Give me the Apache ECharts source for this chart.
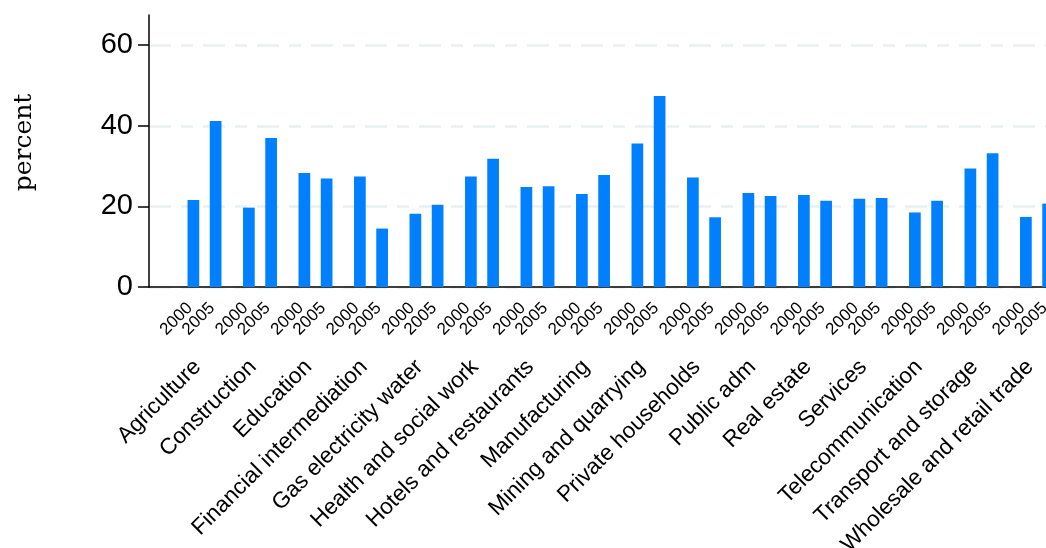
<!DOCTYPE html>
<html><head><meta charset="utf-8">
<script src="https://cdn.jsdelivr.net/npm/echarts@6/dist/echarts.min.js"></script>
<style>html,body{margin:0;padding:0;background:#fff}#c{width:1046px;height:548px}</style>
</head><body><div id="c"></div>
<script>
const sectors = ['Agriculture','Construction','Education','Financial intermediation','Gas electricity water','Health and social work','Hotels and restaurants','Manufacturing','Mining and quarrying','Private households','Public adm','Real estate','Services','Telecommunication','Transport and storage','Wholesale and retail trade'];
const years = ['2000','2005'];
const values2000 = [21.6,19.7,28.3,27.4,18.2,27.4,24.8,23.1,35.6,27.2,23.3,22.8,21.9,18.5,29.4,17.4];
const values2005 = [41.2,37.0,26.9,14.5,20.4,31.8,25.0,27.8,47.4,17.3,22.6,21.4,22.1,21.4,33.2,20.7];
const yTicks = [0,20,40,60];
const yMax = 67.5;

const FONT = 'Liberation Sans, Arial, sans-serif';
const chart = echarts.init(document.getElementById('c'), null, {renderer:'canvas'});
function mkSeries(name, vals){
  return {
    name: name, type:'bar', barWidth: 11.7, barGap:'90%',
    itemStyle:{color:'#0080ff'},
    data: vals.map((v,i)=>[i,v]),
    label:{show:true, formatter:'{a}', position:['50%','100%'], align:'right', verticalAlign:'middle',
      rotate:45, offset:[-15.7,10.6], fontSize:17, color:'#000', fontFamily:FONT}
  };
}
chart.setOption({
  animation:false,
  grid:{left:149, top:15, height:272, width:943.5, outerBoundsMode:'none', containLabel:false},
  xAxis:{type:'value', min:-1, max:sectors.length, interval:1,
    axisLine:{show:true, onZero:false, lineStyle:{color:'#000', width:1.5}},
    axisTick:{show:false}, splitLine:{show:false},
    axisLabel:{customValues: sectors.map((_,i)=>i), formatter:v=>sectors[v]||'', rotate:45, fontSize:22.5,
      margin:69.5, padding:[0,10,0,0], color:'#000', fontFamily:FONT}
  },
  yAxis:{type:'value', min:0, max:yMax,
    name:'percent', nameLocation:'middle', nameGap:112,
    nameTextStyle:{fontFamily:'DejaVu Serif', fontSize:25, color:'#000', padding:[0,0,0,17]},
    axisLine:{show:true, onZero:false, lineStyle:{color:'#000', width:1.5}},
    axisTick:{show:true, customValues:yTicks, length:11, lineStyle:{color:'#000', width:1.5}},
    axisLabel:{customValues:yTicks, fontSize:29, margin:16, color:'#000', fontFamily:FONT},
    splitLine:{show:true, lineStyle:{color:'#e9f0f3', width:2.5, type:[22,10,12,10]}}
  },
  series:[mkSeries(years[0], values2000), mkSeries(years[1], values2005)]
});
</script></body></html>
